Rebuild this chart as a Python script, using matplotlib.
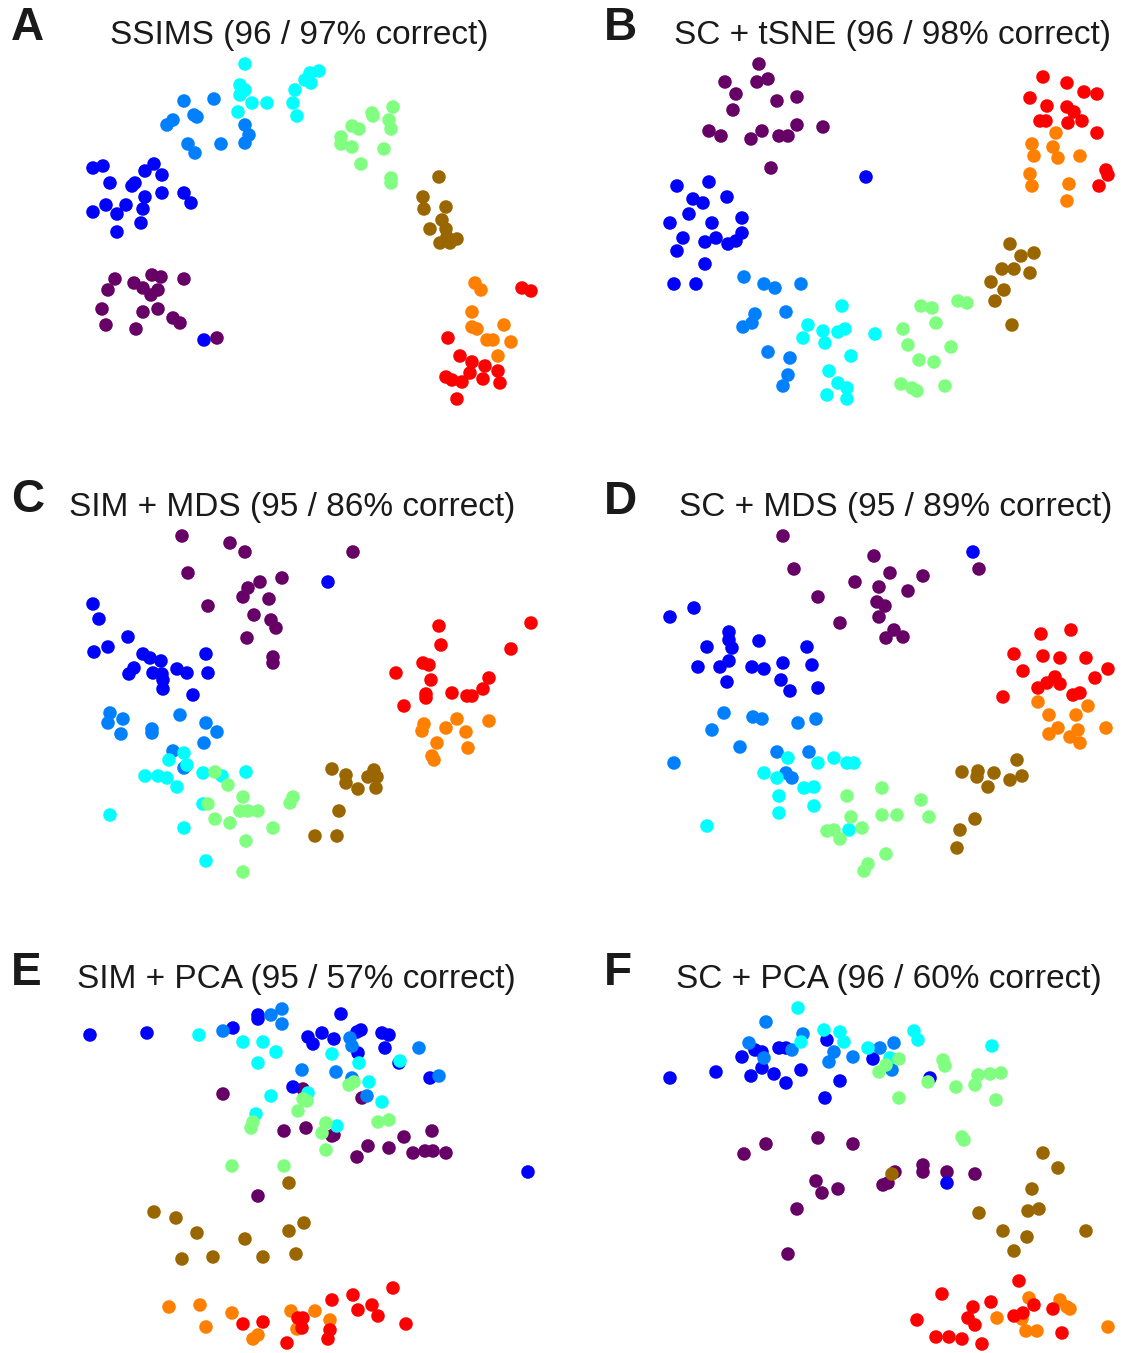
import matplotlib
matplotlib.use("Agg")
import matplotlib.pyplot as plt

plt.rcParams['font.family'] = ['Liberation Sans', 'DejaVu Sans']

# cluster colours (same order in every panel)
colors = ['#660066', '#0000ff', '#0080ff', '#00ffff',
          '#80ff80', '#996600', '#ff8000', '#ff0000']

# Panel A - SSIMS
A_PURPLE = [(115,279),(108,290),(134,283),(143,288),(152,275),(161,277),(158,290),(151,295),(184,279),(102,309),(143,312),(158,309),(106,325),(136,329),(173,318),(180,323),(217,338)]
A_BLUE = [(93,168),(103,166),(110,183),(145,171),(154,164),(162,175),(132,186),(135,183),(145,197),(162,193),(184,193),(191,203),(106,205),(126,205),(117,214),(93,212),(143,209),(141,223),(117,232),(204,340)]
A_DODGER = [(184,101),(214,99),(173,120),(167,125),(194,115),(197,117),(188,144),(195,153),(221,144),(245,125),(249,135),(245,143)]
A_CYAN = [(245,64),(240,85),(245,90),(240,95),(252,103),(267,103),(238,112),(295,90),(293,103),(297,116),(305,80),(310,73),(319,71),(311,83)]
A_GREEN = [(393,107),(372,113),(373,116),(389,120),(391,129),(352,126),(359,129),(341,137),(341,144),(352,147),(384,149),(361,164),(391,178),(391,183)]
A_BROWN = [(439,177),(423,197),(424,209),(446,207),(442,220),(430,229),(446,229),(440,243),(450,243),(457,239),(447,237)]
A_ORANGE = [(475,283),(481,290),(472,312),(472,327),(477,329),(504,325),(487,340),(493,340),(511,342),(498,356)]
A_RED = [(522,288),(531,291),(448,338),(460,356),(472,362),(485,366),(470,373),(498,371),(446,377),(452,380),(462,382),(483,379),(500,383),(457,399)]

# Panel B - SC + tSNE
B_PURPLE = [(759,64),(725,82),(757,82),(768,79),(736,94),(777,101),(797,97),(733,110),(709,131),(721,136),(751,139),(762,131),(779,136),(788,136),(797,125),(823,127),(771,168)]
B_BLUE = [(866,177),(677,186),(709,182),(693,199),(703,203),(727,197),(689,214),(670,223),(712,223),(742,218),(683,238),(705,242),(716,238),(728,244),(736,241),(742,233),(677,251),(705,264),(674,284),(696,284)]
B_DODGER = [(744,277),(764,284),(775,288),(801,284),(786,312),(755,314),(752,323),(743,327),(768,352),(790,358),(788,375),(783,386)]
B_CYAN = [(842,306),(808,325),(823,331),(803,338),(825,343),(838,332),(845,329),(875,334),(851,356),(829,371),(838,383),(847,388),(827,395),(847,399)]
B_GREEN = [(921,306),(932,308),(958,301),(967,303),(936,323),(903,329),(908,345),(951,347),(919,360),(934,362),(901,384),(912,388),(917,391),(945,386)]
B_BROWN = [(1010,244),(1021,256),(1034,253),(1002,269),(1014,269),(1030,273),(991,282),(1004,290),(995,301),(1012,325)]
B_ORANGE = [(1056,133),(1032,144),(1034,156),(1053,147),(1058,158),(1080,156),(1030,174),(1032,186),(1069,184),(1067,201)]
B_RED = [(1043,77),(1067,83),(1084,92),(1097,94),(1030,98),(1047,106),(1067,107),(1074,112),(1040,121),(1046,121),(1068,123),(1082,121),(1097,133),(1106,170),(1108,175),(1099,186)]

# Panel C - SIM + MDS
C_PURPLE = [(182,536),(230,543),(245,552),(353,552),(188,573),(282,578),(260,582),(248,588),(243,597),(269,599),(208,606),(254,615),(271,620),(276,628),(247,638),(273,657),(273,663)]
C_BLUE = [(328,582),(93,604),(99,619),(128,637),(94,652),(108,647),(143,654),(150,658),(161,661),(134,668),(129,674),(153,673),(162,674),(163,680),(177,669),(187,673),(206,654),(208,673),(163,689),(193,695)]
C_DODGER = [(110,713),(123,719),(108,723),(121,734),(152,729),(152,733),(180,715),(206,723),(217,732),(204,743),(173,751),(184,768)]
C_CYAN = [(184,753),(169,760),(187,765),(145,776),(158,776),(167,778),(177,787),(203,773),(222,776),(246,772),(203,804),(110,815),(184,828),(206,861)]
C_GREEN = [(215,772),(228,785),(243,797),(208,804),(240,811),(248,811),(258,811),(293,797),(290,803),(215,819),(230,823),(273,828),(246,841),(243,872)]
C_BROWN = [(332,769),(346,775),(346,783),(358,789),(374,770),(368,777),(377,777),(376,788),(339,811),(315,836),(337,836)]
C_ORANGE = [(457,719),(489,721),(424,724),(422,731),(446,728),(466,732),(437,743),(468,748),(432,756),(434,760)]
C_RED = [(439,626),(531,623),(441,645),(511,649),(423,663),(429,665),(396,673),(431,680),(489,678),(483,689),(452,693),(467,696),(472,696),(426,694),(426,698),(404,706)]

# Panel D - SC + MDS
D_PURPLE = [(783,536),(874,556),(890,573),(794,569),(855,582),(879,587),(818,597),(877,602),(885,606),(879,617),(840,623),(894,630),(886,638),(903,637),(923,576),(908,591),(979,569)]
D_BLUE = [(973,552),(670,617),(694,608),(729,632),(729,640),(732,648),(707,647),(759,641),(807,647),(698,667),(720,667),(729,661),(752,667),(764,669),(783,663),(812,665),(727,682),(781,680),(790,691),(818,688)]
D_DODGER = [(724,713),(753,717),(762,719),(798,723),(816,719),(712,730),(740,747),(777,752),(809,752),(674,763),(786,773),(792,778)]
D_CYAN = [(788,758),(818,763),(834,758),(847,763),(854,763),(764,773),(777,778),(804,788),(814,787),(779,796),(814,806),(779,813),(707,826),(849,830)]
D_GREEN = [(882,788),(921,800),(847,796),(882,815),(897,815),(929,817),(851,817),(862,828),(827,831),(834,830),(840,839),(886,854),(868,864),(864,871)]
D_BROWN = [(962,772),(978,771),(977,777),(994,773),(1017,760),(1022,776),(1010,780),(988,787),(975,819),(960,830),(957,848)]
D_ORANGE = [(1038,702),(1088,706),(1049,715),(1076,715),(1058,728),(1049,734),(1078,730),(1070,737),(1080,743),(1106,728)]
D_RED = [(1041,634),(1071,630),(1014,654),(1043,656),(1060,658),(1086,658),(1108,669),(1023,671),(1095,678),(1055,677),(1047,683),(1060,684),(1038,688),(1073,695),(1080,693),(1003,697)]

# Panel E - SIM + PCA
E_PURPLE = [(223,1094),(303,1089),(284,1131),(306,1128),(332,1136),(258,1196),(362,1098),(334,1135),(357,1157),(368,1146),(389,1148),(404,1137),(432,1131),(413,1153),(425,1151),(433,1151),(446,1153)]
E_BLUE = [(90,1035),(147,1033),(258,1015),(258,1019),(233,1028),(308,1037),(313,1044),(322,1033),(334,1039),(341,1014),(293,1087),(357,1032),(361,1030),(382,1033),(389,1035),(385,1048),(358,1053),(399,1063),(430,1078),(528,1172)]
E_DODGER = [(271,1015),(282,1009),(282,1024),(223,1031),(302,1070),(336,1072),(350,1038),(352,1046),(419,1048),(352,1078),(367,1096),(439,1076)]
E_CYAN = [(199,1035),(243,1042),(263,1042),(276,1052),(258,1063),(332,1054),(271,1096),(256,1114),(308,1093),(337,1126),(359,1063),(400,1061),(369,1082),(382,1102)]
E_GREEN = [(303,1099),(307,1101),(298,1111),(253,1122),(251,1128),(326,1123),(322,1133),(326,1150),(232,1166),(284,1166),(354,1082),(349,1085),(378,1122),(389,1120)]
E_BROWN = [(289,1183),(154,1212),(176,1218),(197,1233),(245,1239),(289,1231),(304,1223),(182,1259),(213,1257),(263,1257),(296,1254)]
E_ORANGE = [(169,1307),(200,1305),(232,1313),(206,1327),(291,1311),(315,1311),(330,1320),(297,1329),(258,1335),(253,1339)]
E_RED = [(243,1324),(263,1322),(298,1318),(302,1328),(332,1300),(330,1330),(328,1339),(287,1343),(393,1288),(353,1295),(358,1310),(372,1305),(378,1316),(406,1324),(303,1318)]

# Panel F - SC + PCA
F_PURPLE = [(818,1138),(766,1144),(853,1144),(744,1154),(816,1181),(822,1193),(838,1189),(797,1209),(788,1254),(895,1172),(883,1185),(888,1183),(923,1165),(923,1172),(947,1172),(975,1174)]
F_BLUE = [(670,1078),(716,1072),(742,1057),(755,1050),(762,1052),(779,1048),(786,1048),(751,1076),(762,1068),(774,1074),(786,1083),(801,1070),(827,1040),(873,1059),(840,1081),(825,1098),(930,1078),(947,1183)]
F_DODGER = [(766,1022),(803,1034),(749,1043),(792,1050),(764,1058),(834,1052),(829,1062),(853,1057),(880,1048),(894,1043),(892,1070)]
F_CYAN = [(798,1008),(824,1030),(840,1032),(844,1042),(801,1042),(868,1048),(890,1058),(914,1031),(918,1040),(992,1046)]
F_GREEN = [(879,1072),(886,1065),(899,1059),(899,1098),(943,1060),(945,1066),(928,1082),(956,1087),(975,1085),(978,1075),(990,1074),(1001,1073),(996,1100),(962,1137),(964,1140)]
F_BROWN = [(892,1174),(1043,1153),(1058,1168),(1032,1189),(979,1213),(1028,1211),(1039,1209),(1003,1231),(1027,1237),(1014,1251),(1086,1231)]
F_ORANGE = [(1029,1298),(1060,1300),(1070,1309),(1067,1307),(997,1318),(1022,1319),(1026,1331),(1037,1331),(1108,1327)]
F_RED = [(1019,1281),(942,1294),(991,1302),(973,1307),(1034,1305),(1053,1309),(917,1320),(968,1318),(975,1325),(1014,1316),(1023,1313),(936,1337),(949,1337),(962,1339),(982,1344),(1062,1333)]

letters = ['A', 'B', 'C', 'D', 'E', 'F']
titles = ['SSIMS (96 / 97% correct)', 'SC + tSNE (96 / 98% correct)',
          'SIM + MDS (95 / 86% correct)', 'SC + MDS (95 / 89% correct)',
          'SIM + PCA (95 / 57% correct)', 'SC + PCA (96 / 60% correct)']
panels = [
    [A_PURPLE, A_BLUE, A_DODGER, A_CYAN, A_GREEN, A_BROWN, A_ORANGE, A_RED],
    [B_PURPLE, B_BLUE, B_DODGER, B_CYAN, B_GREEN, B_BROWN, B_ORANGE, B_RED],
    [C_PURPLE, C_BLUE, C_DODGER, C_CYAN, C_GREEN, C_BROWN, C_ORANGE, C_RED],
    [D_PURPLE, D_BLUE, D_DODGER, D_CYAN, D_GREEN, D_BROWN, D_ORANGE, D_RED],
    [E_PURPLE, E_BLUE, E_DODGER, E_CYAN, E_GREEN, E_BROWN, E_ORANGE, E_RED],
    [F_PURPLE, F_BLUE, F_DODGER, F_CYAN, F_GREEN, F_BROWN, F_ORANGE, F_RED],
]

W, H = 1128, 1353
fig = plt.figure(figsize=(W / 100, H / 100), dpi=100)

# panel boxes in pixel units (x0, x1, y0, y1)
col_edges = [(0, 564), (564, 1128)]
row_edges = [(0, 451), (451, 902), (902, 1353)]
title_x = [299, 892, 292, 896, 296, 889]
title_y = [44, 44, 516, 516, 988, 988]
letter_x = [11, 604, 11, 604, 11, 604]
letter_y = [40, 40, 512, 514, 985, 985]

for i, clusters in enumerate(panels):
    x0, x1 = col_edges[i % 2]
    y0, y1 = row_edges[i // 2]
    ax = fig.add_axes([x0 / W, 1 - y1 / H, (x1 - x0) / W, (y1 - y0) / H])
    ax.set_xlim(x0, x1)
    ax.set_ylim(y1, y0)
    ax.axis('off')
    for pts, c in zip(clusters, colors):
        xs = [p[0] for p in pts]
        ys = [p[1] for p in pts]
        ax.scatter(xs, ys, s=95, color=c, edgecolors='none', clip_on=False)
    ax.text(title_x[i], title_y[i], titles[i], fontsize=24, ha='center',
            va='baseline', color='#1a1a1a')
    ax.text(letter_x[i], letter_y[i], letters[i], fontsize=33,
            fontweight='bold', ha='left', va='baseline', color='#1a1a1a')

fig.savefig('out.png', dpi=100)
